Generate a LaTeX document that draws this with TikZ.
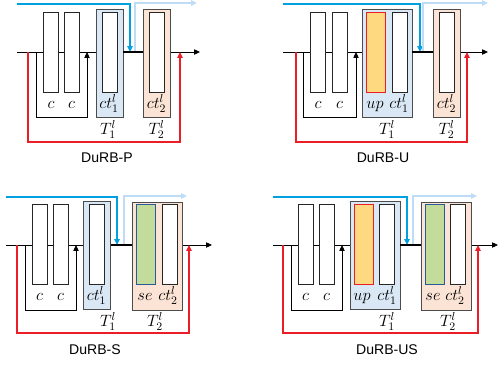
\RequirePackage{fix-cm}
\documentclass[tikz,border=0pt]{standalone}
\usepackage{amsmath}
\usepackage{fontspec}
\newfontfamily\capfont{Liberation Sans}
\usepackage{tikz}
\usetikzlibrary{arrows.meta, positioning}
\usepackage{xcolor}
\definecolor{fwdblue}{RGB}{0,160,225}
\definecolor{outblue}{RGB}{190,220,245}
\definecolor{backred}{RGB}{235,30,40}
\definecolor{tonefill}{RGB}{218,232,245}
\definecolor{ttwofill}{RGB}{251,228,213}
\definecolor{upfill}{RGB}{255,217,128}
\definecolor{sefill}{RGB}{195,220,155}
\definecolor{seblue}{RGB}{40,90,150}

\begin{document}
\begin{tikzpicture}[
    x=0.03cm, y=-0.03cm,
    tip/.style={-{Triangle[length=5pt, width=4.5pt]}},
    box/.style={draw=black!85, fill=white, line width=0.7pt, minimum width=0.45cm, minimum height=2.4cm, inner sep=0},
    upbox/.style={box, draw=backred, fill=upfill, minimum width=0.57cm},
    sebox/.style={box, draw=seblue, fill=sefill, minimum width=0.57cm},
    tbox/.style={draw=black!70, line width=0.7pt, minimum width=0.81cm, minimum height=3.24cm, inner sep=0},
    tone/.style={tbox, fill=tonefill},
    ttwo/.style={tbox, fill=ttwofill},
    wide/.style={minimum width=1.5cm},
    lbl/.style={inner sep=0, anchor=base, font=\fontsize{14}{16}\selectfont},
    title/.style={inner sep=0, font=\capfont\fontsize{12}{14}\selectfont},
    flow/.style={line width=0.7pt, tip},
    bridge/.style={line width=1.8pt},
    fwd/.style={draw=fwdblue, line width=1.2pt, tip},
    fwdout/.style={draw=outblue, line width=1.2pt, tip},
    back/.style={draw=backred, line width=1.2pt, tip},
    skip/.style={line width=0.7pt, tip},
  ]
  \useasboundingbox (0,0) rectangle (498,365);

  % DuRB-P
  \coordinate (p-in) at (17,52);
  \coordinate (p-out) at (200,52);
  \coordinate (p-bin) at (17,4);
  \coordinate (p-bj) at (130,52);
  \coordinate (p-lj) at (135,52);
  \coordinate (p-lout) at (197,3);
  \coordinate (p-ska) at (36,52);
  \coordinate (p-skb) at (87,52);
  \coordinate (p-rda) at (28,52);
  \coordinate (p-rdb) at (180,52);
  \draw[flow] (p-in) -- (p-out);
  \draw[skip] (p-ska) -- ++(0,65) -| (p-skb);
  \draw[back] (p-rda) -- ++(0,90) -| (p-rdb);
  \draw[fwd] (p-bin) -| (p-bj);
  \draw[fwdout] (p-lj) |- (p-lout);
  \node[box] (p-c1) at (51,52) {};
  \node[box] (p-c2) at (71.5,52) {};
  \node[tone] (p-t1) at (109.5,63) {};
  \node[box] (p-ct1) at (109.5,52) {};
  \node[ttwo] (p-t2) at (156.5,63.5) {};
  \node[box] (p-ct2) at (156.5,52) {};
  \draw[bridge] (p-t1.east |- p-in) -- (p-t2.west |- p-in);
  \node[lbl] (p-lc1) at (51,108) {$c$};
  \node[lbl] (p-lc2) at (71.5,108) {$c$};
  \node[lbl] (p-lct1) at (109,108) {$ct_1^l$};
  \node[lbl] (p-lct2) at (156.5,108) {$ct_2^l$};
  \node[lbl] (p-lt1) at (108,134) {$T_1^l$};
  \node[lbl] (p-lt2) at (156.5,134) {$T_2^l$};
  \node[title] (p-cap) at (107,158) {DuRB-P};

  % DuRB-U
  \coordinate (u-in) at (283,52);
  \coordinate (u-out) at (488,52);
  \coordinate (u-bin) at (283,4);
  \coordinate (u-bj) at (420,52);
  \coordinate (u-lj) at (423,52);
  \coordinate (u-lout) at (488,3);
  \coordinate (u-ska) at (303,52);
  \coordinate (u-skb) at (356,52);
  \coordinate (u-rda) at (296,52);
  \coordinate (u-rdb) at (467,52);
  \draw[flow] (u-in) -- (u-out);
  \draw[skip] (u-ska) -- ++(0,65) -| (u-skb);
  \draw[back] (u-rda) -- ++(0,90) -| (u-rdb);
  \draw[fwd] (u-bin) -| (u-bj);
  \draw[fwdout] (u-lj) |- (u-lout);
  \node[box] (u-c1) at (318,52) {};
  \node[box] (u-c2) at (339.5,52) {};
  \node[tone, wide] (u-t1) at (387,63) {};
  \node[upbox] (u-up) at (376,52) {};
  \node[box] (u-ct1) at (399.5,52) {};
  \node[ttwo] (u-t2) at (446.5,63.5) {};
  \node[box] (u-ct2) at (446.5,52) {};
  \draw[bridge] (u-t1.east |- u-in) -- (u-t2.west |- u-in);
  \node[lbl] (u-lc1) at (318,108) {$c$};
  \node[lbl] (u-lc2) at (339.5,108) {$c$};
  \node[lbl] (u-lup) at (375,108) {$up$};
  \node[lbl] (u-lct1) at (399,108) {$ct_1^l$};
  \node[lbl] (u-lct2) at (446.5,108) {$ct_2^l$};
  \node[lbl] (u-lt1) at (387,134) {$T_1^l$};
  \node[lbl] (u-lt2) at (446.5,134) {$T_2^l$};
  \node[title] (u-cap) at (383,158) {DuRB-U};

  % DuRB-S
  \coordinate (s-in) at (6,245);
  \coordinate (s-out) at (212,245);
  \coordinate (s-bin) at (6,197);
  \coordinate (s-bj) at (117,245);
  \coordinate (s-lj) at (124,245);
  \coordinate (s-lout) at (187,196);
  \coordinate (s-ska) at (25,245);
  \coordinate (s-skb) at (76,245);
  \coordinate (s-rda) at (17,245);
  \coordinate (s-rdb) at (189,245);
  \draw[flow] (s-in) -- (s-out);
  \draw[skip] (s-ska) -- ++(0,65) -| (s-skb);
  \draw[back] (s-rda) -- ++(0,88) -| (s-rdb);
  \draw[fwd] (s-bin) -| (s-bj);
  \draw[fwdout] (s-lj) |- (s-lout);
  \node[box] (s-c1) at (39.5,244) {};
  \node[box] (s-c2) at (60.5,244) {};
  \node[tone] (s-t1) at (97,255.5) {};
  \node[box] (s-ct1) at (96.5,244) {};
  \node[ttwo, wide] (s-t2) at (157.5,256) {};
  \node[sebox] (s-se) at (146,244) {};
  \node[box] (s-ct2) at (169.5,244) {};
  \draw[bridge] (s-t1.east |- s-in) -- (s-t2.west |- s-in);
  \node[lbl] (s-lc1) at (39.5,300) {$c$};
  \node[lbl] (s-lc2) at (60.5,300) {$c$};
  \node[lbl] (s-lct1) at (96.5,300) {$ct_1^l$};
  \node[lbl] (s-lse) at (145,300) {$se$};
  \node[lbl] (s-lct2) at (168,300) {$ct_2^l$};
  \node[lbl] (s-lt1) at (108,326) {$T_1^l$};
  \node[lbl] (s-lt2) at (155,326) {$T_2^l$};
  \node[title] (s-cap) at (95,350) {DuRB-S};

  % DuRB-US
  \coordinate (us-in) at (273,245);
  \coordinate (us-out) at (498,245);
  \coordinate (us-bin) at (273,197);
  \coordinate (us-bj) at (407,245);
  \coordinate (us-lj) at (413,245);
  \coordinate (us-lout) at (477,196);
  \coordinate (us-ska) at (291,245);
  \coordinate (us-skb) at (342,245);
  \coordinate (us-rda) at (283,245);
  \coordinate (us-rdb) at (478,245);
  \draw[flow] (us-in) -- (us-out);
  \draw[skip] (us-ska) -- ++(0,65) -| (us-skb);
  \draw[back] (us-rda) -- ++(0,88) -| (us-rdb);
  \draw[fwd] (us-bin) -| (us-bj);
  \draw[fwdout] (us-lj) |- (us-lout);
  \node[box] (us-c1) at (305.5,244) {};
  \node[box] (us-c2) at (326.5,244) {};
  \node[tone, wide] (us-t1) at (375,255.5) {};
  \node[upbox] (us-up) at (364,244) {};
  \node[box] (us-ct1) at (386.5,244) {};
  \node[ttwo, wide] (us-t2) at (446,256) {};
  \node[sebox] (us-se) at (435,244) {};
  \node[box] (us-ct2) at (457.5,244) {};
  \draw[bridge] (us-t1.east |- us-in) -- (us-t2.west |- us-in);
  \node[lbl] (us-lc1) at (305.5,300) {$c$};
  \node[lbl] (us-lc2) at (326.5,300) {$c$};
  \node[lbl] (us-lup) at (362,300) {$up$};
  \node[lbl] (us-lct1) at (387,300) {$ct_1^l$};
  \node[lbl] (us-lse) at (433,300) {$se$};
  \node[lbl] (us-lct2) at (455,300) {$ct_2^l$};
  \node[lbl] (us-lt1) at (387,326) {$T_1^l$};
  \node[lbl] (us-lt2) at (448,326) {$T_2^l$};
  \node[title] (us-cap) at (387,350) {DuRB-US};
\end{tikzpicture}
\end{document}
